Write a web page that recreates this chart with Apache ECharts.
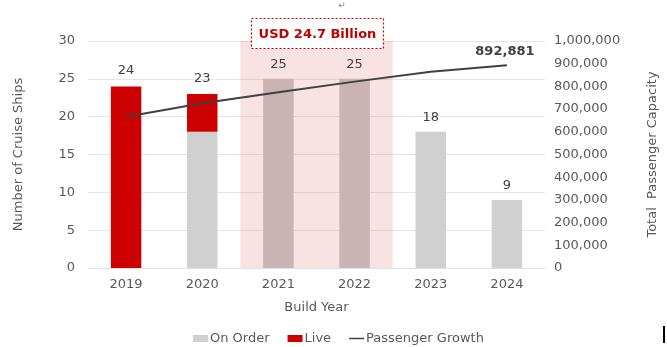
<!DOCTYPE html>
<html>
<head>
<meta charset="utf-8">
<script src="https://cdn.jsdelivr.net/npm/echarts@6/dist/echarts.min.js"></script>
<style>
html,body{margin:0;padding:0;background:#fff;}
#chart{width:667px;height:347px;}
</style>
</head>
<body>
<div id="chart"></div>
<script>
const years = ['2019', '2020', '2021', '2022', '2023', '2024'];
const onOrder = [0, 18, 25, 25, 18, 9];
const live = [24, 5, 0, 0, 0, 0];
const passengerGrowth = [666000, 726000, 774000, 821000, 865000, 892881];
const highlightYears = ['2021', '2022'];
const annotationText = 'USD 24.7 Billion';
const leftTicks = [0, 30, 5];
const rightTicks = [0, 1000000, 100000];

const FONT = 'DejaVu Sans';
const TXT = '#595959';
const GREY = '#d0d0d0';
const RED = '#cc0000';
const LINE = '#404040';
const totals = years.map((y, i) => onOrder[i] + live[i]);

const chart = echarts.init(document.getElementById('chart'), null, {renderer: 'canvas'});

const option = {
  animation: false,
  textStyle: {fontFamily: FONT},
  grid: {left: 88, right: 119, top: 41, bottom: 79},
  legend: {
    data: [
      {name: 'On Order', icon: 'rect', itemStyle: {color: GREY}},
      {name: 'Live', icon: 'rect', itemStyle: {color: RED}},
      {name: 'Passenger Growth', icon: 'path://M0,0H16V1.6H0Z', itemStyle: {color: LINE}}
    ],
    left: 188, top: 327,
    itemWidth: 15, itemHeight: 7, itemGap: 18,
    textStyle: {color: TXT, fontSize: 13, fontFamily: FONT, padding: [0, 0, 0, -3]}
  },
  xAxis: {
    type: 'category',
    data: years,
    name: 'Build Year',
    nameLocation: 'middle',
    nameGap: 33,
    nameTextStyle: {color: TXT, fontSize: 13, fontFamily: FONT},
    axisLine: {lineStyle: {color: '#e3e3e3'}},
    axisTick: {show: false},
    axisLabel: {color: TXT, fontSize: 13, margin: 10, fontFamily: FONT}
  },
  yAxis: [
    {
      type: 'value',
      min: leftTicks[0], max: leftTicks[1], interval: leftTicks[2],
      name: 'Number of Cruise Ships',
      nameLocation: 'middle',
      nameGap: 63,
      nameTextStyle: {color: TXT, fontSize: 13, fontFamily: FONT},
      axisLabel: {color: TXT, fontSize: 13, margin: 13, fontFamily: FONT},
      splitLine: {lineStyle: {color: '#e6e6e6'}}
    },
    {
      type: 'value',
      min: rightTicks[0], max: rightTicks[1], interval: rightTicks[2],
      name: 'Total  Passenger Capacity',
      nameLocation: 'middle',
      nameGap: 101,
      nameRotate: 90,
      nameTextStyle: {color: TXT, fontSize: 13, fontFamily: FONT},
      axisLabel: {
        color: TXT, fontSize: 13, margin: 9, fontFamily: FONT,
        formatter: v => v.toLocaleString('en-US')
      },
      splitLine: {show: false}
    }
  ],
  series: [
    {
      name: 'On Order',
      type: 'bar',
      stack: 'ships',
      barWidth: '40%',
      z: 3,
      data: onOrder,
      itemStyle: {
        color: p => highlightYears.includes(p.name) ? '#c9b3b4' : GREY
      },
      label: {
        show: true, position: 'top', distance: 8,
        color: LINE, fontSize: 13, fontFamily: FONT,
        formatter: p => live[p.dataIndex] === 0 ? String(totals[p.dataIndex]) : ''
      }
    },
    {
      name: 'Live',
      type: 'bar',
      stack: 'ships',
      barWidth: '40%',
      z: 3,
      data: live,
      itemStyle: {color: RED},
      label: {
        show: true, position: 'top', distance: 9,
        color: LINE, fontSize: 13, fontFamily: FONT,
        formatter: p => live[p.dataIndex] > 0 ? String(totals[p.dataIndex]) : ''
      }
    },
    {
      name: 'Passenger Growth',
      type: 'line',
      yAxisIndex: 1,
      z: 4,
      symbol: 'circle',
      symbolSize: 0,
      showSymbol: true,
      lineStyle: {color: LINE, width: 2},
      itemStyle: {color: LINE},
      data: passengerGrowth.map((v, i) => i === passengerGrowth.length - 1 ? {
        value: v,
        label: {
          show: true, position: 'top', distance: 7, offset: [-2, 0],
          color: LINE, fontSize: 13, fontWeight: 'bold', fontFamily: FONT,
          formatter: p => p.value.toLocaleString('en-US')
        }
      } : v)
    }
  ]
};
chart.setOption(option);

const x1 = chart.convertToPixel({xAxisIndex: 0}, highlightYears[0]);
const x2 = chart.convertToPixel({xAxisIndex: 0}, highlightYears[1]);
const band = x2 - x1;
const yTop = chart.convertToPixel({yAxisIndex: 0}, leftTicks[1]);
const yBot = chart.convertToPixel({yAxisIndex: 0}, leftTicks[0]);
const midX = (x1 + x2) / 2;

chart.setOption({
  graphic: [
    {
      type: 'rect', z: 1, silent: true,
      shape: {x: x1 - band / 2, y: yTop, width: x2 - x1 + band, height: yBot - yTop},
      style: {fill: 'rgba(225,100,100,0.19)'}
    },
    {
      type: 'rect', z: 10, silent: true,
      shape: {x: midX - 65, y: 18.5, width: 132, height: 30},
      style: {fill: '#ffffff', stroke: '#cc0000', lineWidth: 1.2, lineDash: [2, 2]}
    },
    {
      type: 'text', z: 11, silent: true,
      x: midX + 1, y: 34.5,
      style: {
        text: annotationText, fill: '#c00000', font: 'bold 13px "DejaVu Sans"',
        textAlign: 'center', textVerticalAlign: 'middle'
      }
    },
    {
      type: 'text', z: 11, silent: true,
      x: 342, y: 6,
      style: {text: '\u21B5', fill: '#888', font: '9px "DejaVu Sans"', textAlign: 'center', textVerticalAlign: 'middle'}
    },
    {
      type: 'rect', z: 11, silent: true,
      shape: {x: 663, y: 326, width: 2, height: 17},
      style: {fill: '#000'}
    }
  ]
});
</script>
</body>
</html>
